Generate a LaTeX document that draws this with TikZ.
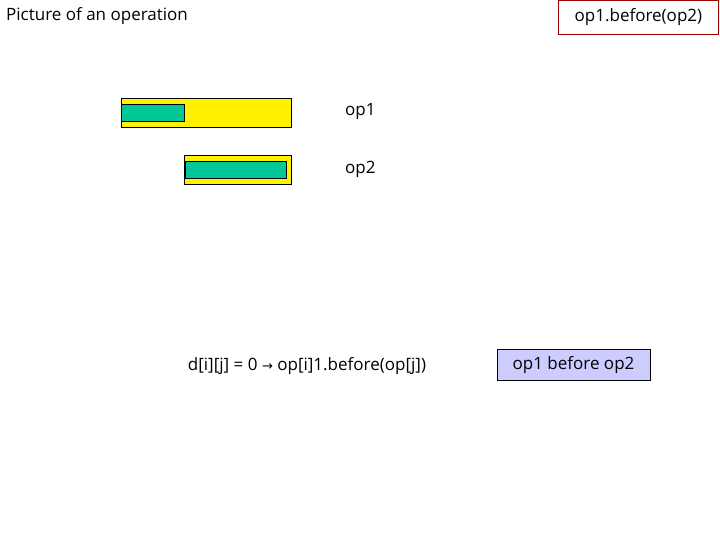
\documentclass[tikz,border=0pt]{standalone}
\usepackage{fontspec}
\setmainfont{Open Sans}
\newfontfamily\dv{DejaVu Sans}
\begin{document}
\begin{tikzpicture}[x=1pt,y=-1pt,
  txt/.style={font=\fontsize{17}{20}\selectfont, inner sep=0pt},
  ybar/.style={draw=black, fill=yellow, line width=1pt},
  gbar/.style={draw=black, fill=green!60!teal!70!cyan, line width=1pt}]
\useasboundingbox (0,0) rectangle (720,540);
\colorlet{gr}{black}
\definecolor{teal2}{HTML}{00C896}
\node[txt, anchor=west] (title) at (6,16) {Picture of an operation};
\node[txt, draw=red!60!black, line width=0.8pt, minimum width=160, minimum height=34, anchor=north west] (hdr) at (558,0) {op1.before(op2)};
\draw[ybar] (121,99) rectangle (291,128);
\draw[draw=black, fill=teal2, line width=1pt] (121,105) rectangle (184,122);
\draw[ybar] (184,156) rectangle (291,185);
\draw[draw=black, fill=teal2, line width=1pt] (185,162) rectangle (286,179);
\node[txt, anchor=west] (op1) at (345,111) {op1};
\node[txt, anchor=west] (op2) at (345,169) {op2};
\node[txt] (f) at (307,366) {d[i][j] = 0 {\dv\fontsize{13}{15}\selectfont →} op[i]1.before(op[j])};
\node[txt, draw=black, line width=0.8pt, fill={rgb,255:red,204;green,204;blue,255}, minimum width=153, minimum height=31] (res) at (573.5,365) {op1 before op2};
\end{tikzpicture}
\end{document}
